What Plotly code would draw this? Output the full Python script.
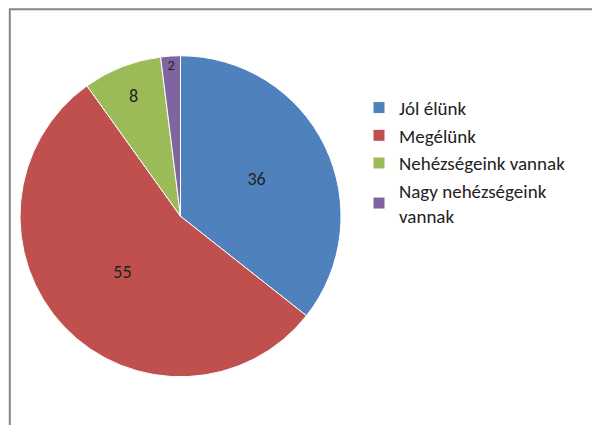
import plotly.graph_objects as go

labels = ['Jól élünk', 'Megélünk', 'Nehézségeink vannak', 'Nagy nehézségeink<br>vannak']
values = [36, 55, 8, 2]
colors = ['#4F81BD', '#C0504D', '#9BBB59', '#8064A2']

fig = go.Figure(go.Pie(
    labels=labels, values=values, sort=False, direction='clockwise', rotation=0,
    marker=dict(colors=colors, line=dict(color='white', width=1)),
    textinfo='value', textposition='inside', insidetextorientation='horizontal',
    textfont=dict(size=18, color='#222222', family='Calibri, Carlito, Liberation Sans, sans-serif'),
    domain=dict(x=[0.02, 0.555], y=[0.13, 0.89]),
))

fig.add_shape(type='rect', xref='paper', yref='paper', x0=0.003, y0=0.008, x1=0.99, y1=0.997,
              line=dict(color='#878787', width=2))

fig.update_layout(
    width=600, height=425,
    margin=dict(l=0, r=0, t=0, b=0),
    paper_bgcolor='white',
    font=dict(family='Calibri, Carlito, Liberation Sans, sans-serif', size=19, color='#222222'),
    legend=dict(x=0.585, y=0.81, xanchor='left', yanchor='top',
                font=dict(size=19), itemwidth=30),
)

fig.write_html('out.html')
